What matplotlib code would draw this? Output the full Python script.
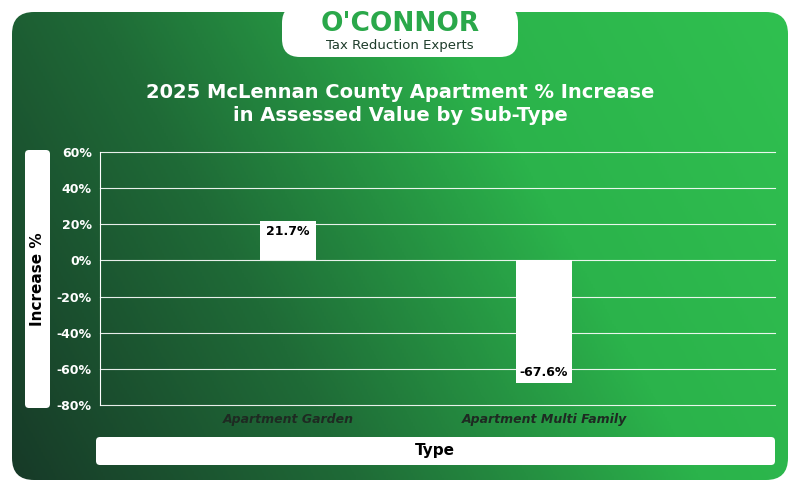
import numpy as np
import matplotlib
matplotlib.use("Agg")
import matplotlib.pyplot as plt
from matplotlib.patches import FancyBboxPatch
from matplotlib.colors import LinearSegmentedColormap

categories = ["Apartment Garden", "Apartment Multi Family"]
values = [21.7, -67.6]
yticks = [-80, -60, -40, -20, 0, 20, 40, 60]

fig = plt.figure(figsize=(8, 4.92), dpi=100)
fig.patch.set_facecolor("white")
bg = fig.add_axes([0, 0, 1, 1])
bg.set_xlim(0, 800); bg.set_ylim(492, 0); bg.axis("off")
cmap = LinearSegmentedColormap.from_list("g", ["#173a28", "#1f6b37", "#2bb34b", "#30c050"])
xx = np.linspace(0, 1, 400)
yy = np.linspace(0, 1, 250)
X, Y = np.meshgrid(xx, yy)
grad = np.clip(0.75 * X + 0.25 * (1 - Y), 0, 1)
im = bg.imshow(grad, cmap=cmap, extent=[12, 788, 480, 12], aspect="auto")
clip = FancyBboxPatch((12, 12), 776, 468, boxstyle="round,pad=0,rounding_size=22",
                      facecolor="none", edgecolor="none", transform=bg.transData)
bg.add_patch(clip)
im.set_clip_path(clip)
bg.add_patch(FancyBboxPatch((282, 5), 236, 52, boxstyle="round,pad=0,rounding_size=18",
                            facecolor="white", edgecolor="none"))
bg.text(400, 24, "O'CONNOR", ha="center", va="center", fontsize=19, fontweight="bold", color="#2aa84a")
bg.text(400, 46, "Tax Reduction Experts", ha="center", va="center", fontsize=9.5, color="#1d3b2a")
bg.text(400, 104, "2025 McLennan County Apartment % Increase\nin Assessed Value by Sub-Type",
        ha="center", va="center", fontsize=14, fontweight="bold", color="white", linespacing=1.3)
bg.add_patch(FancyBboxPatch((25, 150), 25, 258, boxstyle="round,pad=0,rounding_size=4",
                            facecolor="white", edgecolor="none"))
bg.text(37.5, 279, "Increase %", rotation=90, ha="center", va="center", fontsize=11, fontweight="bold", color="black")
bg.add_patch(FancyBboxPatch((96, 437), 679, 28, boxstyle="round,pad=0,rounding_size=4",
                            facecolor="white", edgecolor="none"))
bg.text(435, 451, "Type", ha="center", va="center", fontsize=11, fontweight="bold", color="black")

ax = fig.add_axes([100/800, 1-405/492, 675/800, 253/492])
ax.patch.set_alpha(0)
ax.set_ylim(-80, 60)
ax.set_xlim(-0.734, 1.902)
ax.set_yticks(yticks)
ax.set_yticklabels([f"{t}%" for t in yticks], color="white", fontsize=9, fontweight="bold")
for t in yticks:
    ax.axhline(t, color="white", lw=0.8, alpha=0.9, clip_on=False, zorder=1)
x = np.arange(len(categories))
ax.bar(x, values, width=0.22, color="white", zorder=3)
for xi, v in zip(x, values):
    ax.text(xi, v - 2 if v > 0 else v + 2, f"{v}%", ha="center", va="top" if v > 0 else "bottom",
            fontsize=9, fontweight="bold", color="black", zorder=4)
ax.set_xticks(x)
ax.set_xticklabels(categories, color="#1e2a22", fontsize=9, style="italic", fontweight="bold")
for s in ["top", "right", "bottom"]:
    ax.spines[s].set_visible(False)
ax.spines["left"].set_color("white")
ax.tick_params(length=0, pad=6)
fig.savefig("out.png", dpi=100)
